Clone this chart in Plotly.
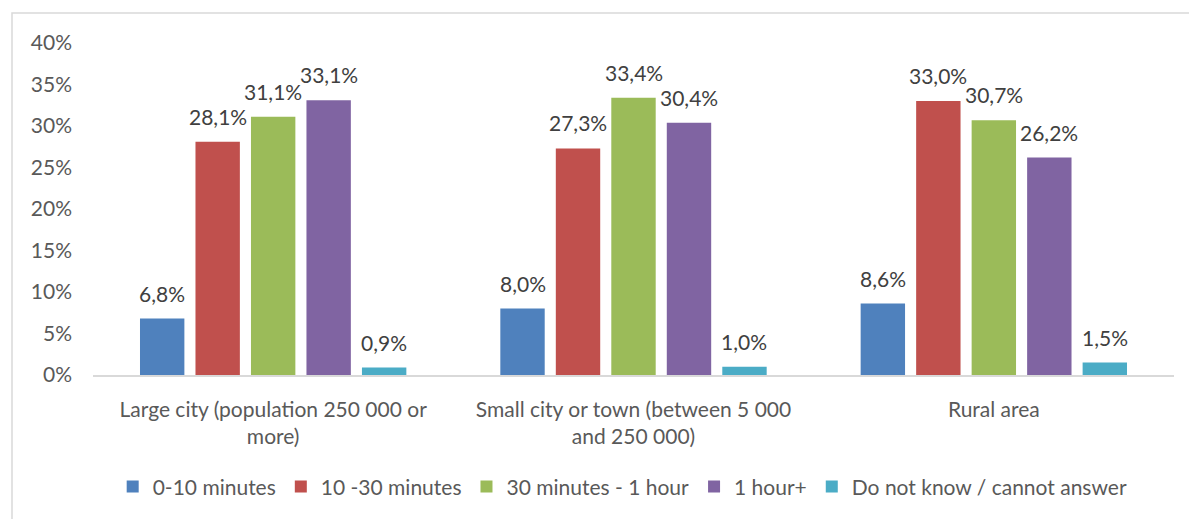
import plotly.graph_objects as go

categories = ["Large city (population 250 000 or<br>more)",
              "Small city or town (between 5 000<br>and 250 000)",
              "Rural area"]
series_names = ["0-10 minutes", "10 -30 minutes", "30 minutes - 1 hour",
                "1 hour+", "Do not know / cannot answer"]
v_0_10 = [0.068, 0.080, 0.086]
v_10_30 = [0.281, 0.273, 0.330]
v_30_60 = [0.311, 0.334, 0.307]
v_60p = [0.331, 0.304, 0.262]
v_dk = [0.009, 0.010, 0.015]
series_values = [v_0_10, v_10_30, v_30_60, v_60p, v_dk]
colors = ["#4F81BD", "#C0504D", "#9BBB59", "#8064A2", "#4BACC6"]
y_ticks = [0, 0.05, 0.10, 0.15, 0.20, 0.25, 0.30, 0.35, 0.40]

FONT = "Lato"
TXT = "#595959"
FS = 21

W, H = 1189, 519
L, R, T, B = 93, 15, 43, 144
pw, ph = W - L - R, H - T - B
BARGAP, GROUPGAP = 0.23, 0.2

fig = go.Figure()
for name, vals, col in zip(series_names, series_values, colors):
    fig.add_trace(go.Bar(
        x=categories, y=vals, name=name,
        marker=dict(color=col, line=dict(width=0)),
        textposition="none", cliponaxis=False, hoverinfo="skip",
    ))

# data labels as annotations, shifted to each bar's slot within the group
n = len(series_names)
slot = pw / len(categories) * (1 - BARGAP) / n
annotations = []
for j, vals in enumerate(series_values):
    for i, v in enumerate(vals):
        annotations.append(dict(
            x=categories[i], y=v, xref="x", yref="y",
            text=f"{v*100:.1f}%".replace(".", ","),
            showarrow=False, xanchor="center", yanchor="bottom",
            xshift=(j - (n - 1) / 2) * slot, yshift=11,
            font=dict(family=FONT, size=FS, color="#404040"),
        ))

fig.update_layout(
    width=W, height=H,
    margin=dict(l=L, r=R, t=T, b=B, autoexpand=False),
    paper_bgcolor="white", plot_bgcolor="white",
    separators=", ",
    barmode="group", bargap=BARGAP, bargroupgap=GROUPGAP,
    showlegend=True,
    legend=dict(orientation="h", x=0.49, xanchor="center", y=-0.275, yanchor="top",
                font=dict(family=FONT, size=FS, color=TXT),
                itemwidth=30, traceorder="normal"),
    font=dict(family=FONT, size=FS, color=TXT),
    xaxis=dict(showline=True, linecolor="#D9D9D9", linewidth=1.5, automargin=False,
               showgrid=False, ticks="", tickfont=dict(family=FONT, size=FS, color=TXT),
               ticklabelstandoff=15),
    yaxis=dict(range=[0, 0.4], tickvals=y_ticks, tickformat=".0%", automargin=False,
               showgrid=False, showline=False, zeroline=False, ticks="",
               tickfont=dict(family=FONT, size=FS, color=TXT),
               ticklabelstandoff=20),
    annotations=annotations,
    shapes=[dict(type="rect", xref="paper", yref="paper",
                 x0=(12 - L) / pw, x1=1.1, y0=-1.0, y1=1 + (T - 13) / ph,
                 line=dict(color="#D9D9D9", width=1.5), fillcolor="rgba(0,0,0,0)",
                 layer="below")],
)

fig.write_html("out.html", config={"displayModeBar": False},
               post_script="document.body.style.margin='0';document.body.style.overflow='hidden';")
